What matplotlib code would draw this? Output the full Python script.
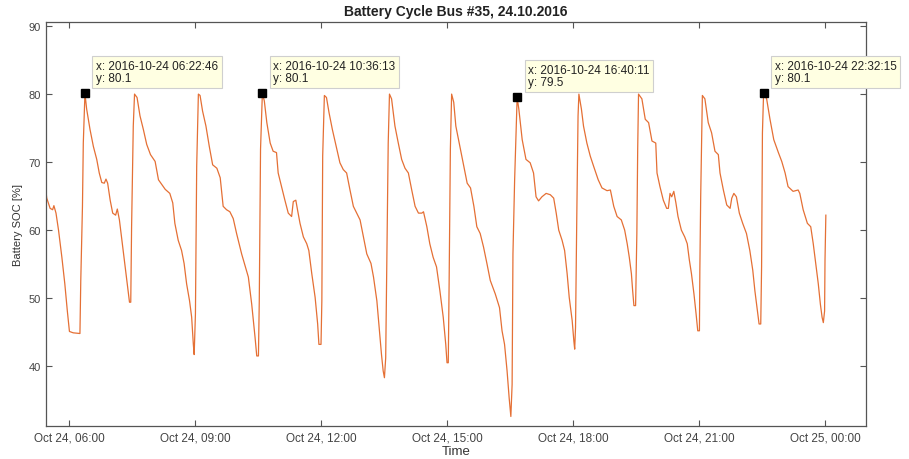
import matplotlib
matplotlib.use("Agg")
import matplotlib.pyplot as plt
import matplotlib.dates as mdates
import pandas as pd

# ---- data (hours after 2016-10-24 00:00, battery SOC in %) ----
hours = [5.45, 5.47, 5.55, 5.61, 5.64, 5.69, 5.75, 5.83, 5.90, 5.96, 6.01, 6.10, 6.26, 6.28, 6.32, 6.34,
         6.3794, 6.42, 6.50, 6.58, 6.66, 6.72, 6.78, 6.84, 6.88, 6.92, 6.98, 7.04, 7.11, 7.15, 7.20, 7.25,
         7.33, 7.39, 7.44, 7.47, 7.49, 7.53, 7.56, 7.62, 7.69, 7.77, 7.85, 7.94, 8.05, 8.13, 8.21, 8.29,
         8.40, 8.47, 8.52, 8.60, 8.68, 8.74, 8.80, 8.87, 8.92, 8.96, 8.98, 9.01, 9.04, 9.08, 9.12, 9.18,
         9.26, 9.34, 9.42, 9.52, 9.60, 9.67, 9.75, 9.83, 9.91, 9.99, 10.11, 10.27, 10.35, 10.43, 10.47,
         10.51, 10.53, 10.56, 10.6036, 10.65, 10.71, 10.79, 10.86, 10.94, 10.98, 11.06, 11.14, 11.22,
         11.30, 11.34, 11.40, 11.44, 11.50, 11.58, 11.66, 11.71, 11.78, 11.86, 11.92, 11.95, 12.00,
         12.02, 12.04, 12.08, 12.13, 12.19, 12.27, 12.35, 12.45, 12.53, 12.61, 12.69, 12.77, 12.85,
         12.93, 13.01, 13.09, 13.19, 13.25, 13.33, 13.39, 13.44, 13.48, 13.51, 13.54, 13.57, 13.60,
         13.63, 13.68, 13.76, 13.84, 13.92, 14.00, 14.08, 14.16, 14.24, 14.32, 14.40, 14.44, 14.52,
         14.59, 14.67, 14.75, 14.83, 14.91, 14.97, 15.00, 15.03, 15.05, 15.08, 15.11, 15.16, 15.21,
         15.32, 15.40, 15.48, 15.56, 15.64, 15.71, 15.79, 15.87, 15.95, 16.03, 16.15, 16.25, 16.31,
         16.37, 16.43, 16.48, 16.52, 16.55, 16.57, 16.61, 16.6697, 16.71, 16.79, 16.88, 16.98, 17.06,
         17.12, 17.18, 17.26, 17.36, 17.46, 17.54, 17.60, 17.66, 17.74, 17.80, 17.86, 17.91, 17.98,
         18.02, 18.04, 18.06, 18.09, 18.12, 18.14, 18.20, 18.25, 18.33, 18.41, 18.49, 18.60, 18.69,
         18.81, 18.89, 18.97, 19.05, 19.15, 19.23, 19.29, 19.34, 19.39, 19.42, 19.45, 19.49, 19.52,
         19.54, 19.56, 19.64, 19.72, 19.80, 19.88, 19.97, 20.00, 20.07, 20.15, 20.23, 20.27, 20.31,
         20.35, 20.40, 20.45, 20.50, 20.58, 20.66, 20.72, 20.77, 20.82, 20.88, 20.93, 20.97, 21.01,
         21.02, 21.04, 21.08, 21.14, 21.22, 21.30, 21.38, 21.46, 21.50, 21.58, 21.66, 21.74, 21.78,
         21.83, 21.89, 21.96, 22.04, 22.13, 22.21, 22.28, 22.33, 22.39, 22.43, 22.47, 22.49, 22.51,
         22.5375, 22.61, 22.69, 22.78, 22.89, 22.97, 23.05, 23.12, 23.24, 23.36, 23.40, 23.48, 23.58,
         23.66, 23.72, 23.78, 23.84, 23.89, 23.93, 23.96, 23.99, 24.00, 24.02]
soc = [65.7, 64.7, 63.2, 63.0, 63.6, 62.5, 60.0, 56.0, 52.1, 48.1, 45.1, 44.9, 44.8, 52.6, 63.5, 72.8,
       80.1, 77.8, 74.8, 72.3, 70.4, 68.4, 67.0, 66.9, 67.5, 66.9, 64.4, 62.5, 62.2, 63.1, 61.5, 59.0,
       55.1, 52.1, 49.4, 49.4, 60.5, 75.3, 80.0, 79.5, 76.8, 74.8, 72.6, 71.1, 70.1, 67.4, 66.7, 66.0,
       65.4, 64.0, 61.0, 58.5, 57.0, 55.1, 52.1, 49.6, 47.2, 43.2, 41.7, 47.7, 69.4, 80.0, 79.8, 77.5,
       75.3, 72.3, 69.6, 69.1, 67.7, 63.5, 63.0, 62.7, 61.7, 59.5, 56.5, 53.1, 49.1, 44.2, 41.5,
       41.5, 49.6, 71.9, 80.1, 79.0, 75.8, 72.8, 71.6, 71.4, 68.4, 66.4, 64.4, 62.5,
       62.0, 64.2, 64.4, 63.0, 61.0, 59.0, 58.0, 57.0, 53.6, 50.1, 46.2, 43.2, 43.2,
       49.6, 70.9, 79.8, 79.5, 77.3, 74.8, 72.6, 69.9, 68.9, 68.4, 65.9, 63.5, 62.5,
       61.5, 59.0, 56.5, 55.1, 53.1, 49.6, 45.2, 41.7, 39.3, 38.3, 41.2, 57.0, 72.8,
       80.0, 79.3, 75.3, 72.8, 70.4, 69.1, 68.4, 65.9, 63.5, 62.5, 62.5, 62.7, 60.5,
       58.0, 56.0, 54.6, 51.1, 47.2, 43.2, 40.5, 40.5, 52.1, 71.9, 80.0, 78.8, 75.3,
       71.9, 69.4, 66.9, 66.2, 63.5, 60.5, 59.5, 57.5, 55.1, 52.6, 50.6, 48.6, 45.2,
       43.2, 39.3, 35.3, 32.6, 37.3, 56.5, 67.4, 79.5, 77.8, 73.3, 70.4, 69.9, 68.4,
       64.9, 64.3, 64.9, 65.4, 65.2, 64.7, 62.5, 60.0, 58.5, 57.0, 53.6, 50.1, 46.7,
       43.7, 42.5, 45.7, 62.0, 76.8, 80.0, 77.8, 75.3, 72.8, 70.9, 69.4, 67.4, 66.2,
       65.8, 65.9, 63.5, 62.0, 61.5, 60.0, 58.0, 56.0, 53.6, 51.1, 48.9, 48.9, 59.5,
       71.9, 80.0, 79.3, 76.3, 75.8, 73.1, 72.8, 68.4, 66.4, 64.4, 63.2, 63.2, 65.4,
       64.9, 65.7, 64.0, 62.0, 60.0, 59.0, 58.0, 55.6, 53.6, 50.6, 47.7, 45.2, 45.2,
       54.1, 64.9, 79.8, 79.3, 75.8, 74.3, 71.6, 71.1, 68.4, 65.9, 63.7, 63.2, 64.7,
       65.4, 64.9, 62.5, 61.0, 59.5, 57.0, 54.1, 51.1, 48.1, 46.2, 46.2, 54.6, 74.3,
       80.1, 79.3, 76.3, 73.3, 71.4, 70.1, 68.4, 66.4, 65.7, 65.9, 65.4, 63.0, 61.0,
       60.5, 58.0, 55.1, 52.1, 49.1, 47.2, 46.4, 48.1, 55.6, 62.2]

tip_times = ["2016-10-24 06:22:46", "2016-10-24 10:36:13", "2016-10-24 16:40:11", "2016-10-24 22:32:15"]
tip_values = [80.1, 80.1, 79.5, 80.1]

xtick_times = ["2016-10-24 06:00", "2016-10-24 09:00", "2016-10-24 12:00", "2016-10-24 15:00",
               "2016-10-24 18:00", "2016-10-24 21:00", "2016-10-25 00:00"]
xtick_labels = ["Oct 24, 06:00", "Oct 24, 09:00", "Oct 24, 12:00", "Oct 24, 15:00",
                "Oct 24, 18:00", "Oct 24, 21:00", "Oct 25, 00:00"]
yticks = [40, 50, 60, 70, 80, 90]

title = "Battery Cycle Bus #35, 24.10.2016"
xlabel = "Time"
ylabel = "Battery SOC [%]"

# ---- plot ----
plt.rcParams['font.family'] = ['Liberation Sans', 'DejaVu Sans']
axcol = '#555555'

base = pd.Timestamp("2016-10-24")
t = base + pd.to_timedelta(hours, unit="h")

fig = plt.figure(figsize=(9.09, 4.60), dpi=100)
ax = fig.add_axes([46/909, 33/460, 820/909, 404/460])

ax.plot(t, soc, color='#E2601F', lw=0.9, alpha=0.9)

x0 = base + pd.to_timedelta(5.452, unit="h")
x1 = base + pd.to_timedelta(24.976, unit="h")
ax.set_xlim(x0, x1)
ax.set_ylim(31.2, 90.6)

ax.set_xticks(pd.to_datetime(xtick_times))
ax.set_xticklabels(xtick_labels)
ax.set_yticks(yticks)

ax.tick_params(direction='in', length=4, width=0.8, colors=axcol, labelsize=8,
               top=True, right=True, labelcolor='#444444')
ax.tick_params(axis='x', pad=4, labelsize=8.5)
for s in ax.spines.values():
    s.set_color(axcol)
    s.set_linewidth(0.9)

ax.set_title(title, fontsize=10, fontweight='bold', color='#222222', pad=5)
ax.set_xlabel(xlabel, fontsize=9.5, color='#333333', labelpad=1)
ax.set_ylabel(ylabel, fontsize=8, color='#333333', labelpad=4)

for tt, vv in zip(tip_times, tip_values):
    ts = pd.Timestamp(tt)
    ax.plot([ts], [vv], marker='s', color='black', markersize=6, zorder=5)
    ax.annotate(f"x: {tt}\ny: {vv}", xy=(mdates.date2num(ts), vv), xytext=(11, 9),
                textcoords='offset pixels', ha='left', va='bottom', fontsize=8.5,
                color='#222222', linespacing=1.1, zorder=6,
                bbox=dict(boxstyle='square,pad=0.3', fc='#FFFFE2', ec='#CFCFCF', lw=0.8))

fig.savefig("out.png", dpi=100)
